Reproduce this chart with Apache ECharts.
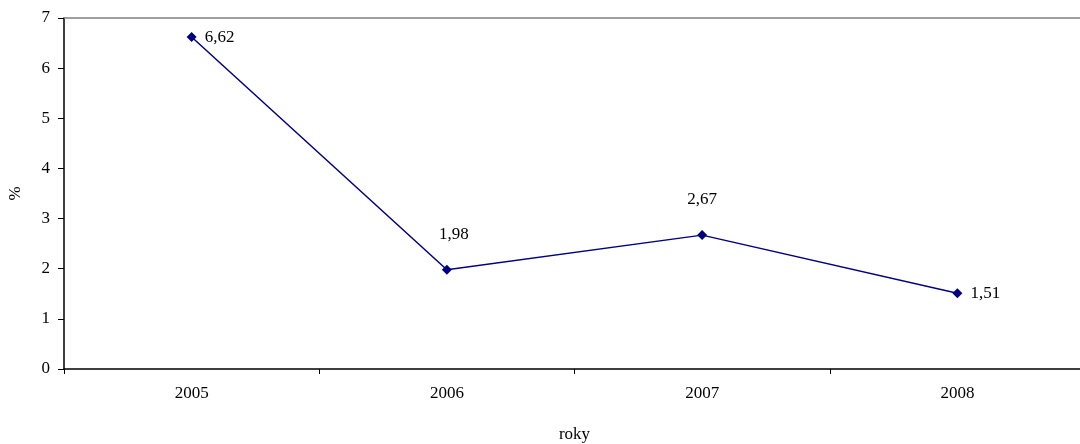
<!DOCTYPE html>
<html>
<head>
<meta charset="utf-8">
<script src="https://cdn.jsdelivr.net/npm/echarts@6/dist/echarts.min.js"></script>
<style>
html,body{margin:0;padding:0;background:#fff;}
#chart{width:1080px;height:444px;}
</style>
</head>
<body>
<div id="chart"></div>
<script>
// Yearly values in percent
const years = ['2005', '2006', '2007', '2008'];
const values = [6.62, 1.98, 2.67, 1.51];
// Label placement per point
const labelPositions = ['right', 'top', 'top', 'right'];

const font = '"Liberation Serif", "Times New Roman", serif';
const chart = echarts.init(document.getElementById('chart'));

chart.setOption({
  animation: false,
  backgroundColor: '#ffffff',
  grid: { left: 64, top: 18, right: -5, bottom: 75, containLabel: false, outerBoundsMode: 'none' },
  xAxis: [{
    type: 'category',
    data: years,
    boundaryGap: true,
    name: 'roky',
    nameLocation: 'middle',
    nameGap: 57,
    nameTextStyle: { fontFamily: font, fontSize: 17, color: '#000' },
    axisLine: { lineStyle: { color: '#000', width: 1.5 } },
    axisTick: { show: true, length: 5, alignWithLabel: false, lineStyle: { color: '#000' } },
    axisLabel: { fontFamily: font, fontSize: 17, color: '#000', margin: 16 },
    splitLine: { show: false }
  }, {
    type: 'category',
    data: years,
    position: 'top',
    axisLine: { lineStyle: { color: '#808080', width: 1.5 } },
    axisTick: { show: false },
    axisLabel: { show: false }
  }],
  yAxis: {
    type: 'value',
    min: 0,
    max: 7,
    interval: 1,
    name: '%',
    nameLocation: 'middle',
    nameGap: 40,
    nameRotate: 90,
    nameTextStyle: { fontFamily: font, fontSize: 17, color: '#000' },
    axisLine: { show: true, lineStyle: { color: '#000', width: 1.5 } },
    axisTick: { show: true, length: 6, lineStyle: { color: '#000' } },
    axisLabel: { fontFamily: font, fontSize: 17, color: '#000', margin: 14 },
    splitLine: { show: false }
  },
  series: [{
    type: 'line',
    data: values.map((v, i) => ({
      value: v,
      label: {
        position: labelPositions[i],
        distance: labelPositions[i] === 'top' ? 22 : 8,
        offset: i === 1 ? [7, 0] : [0, 0]
      }
    })),
    symbol: 'diamond',
    symbolSize: 10,
    lineStyle: { color: '#000080', width: 1.5 },
    itemStyle: { color: '#000080' },
    label: {
      show: true,
      fontFamily: font,
      fontSize: 17,
      color: '#000',
      formatter: p => String(p.value).replace('.', ',')
    }
  }]
});
</script>
</body>
</html>
